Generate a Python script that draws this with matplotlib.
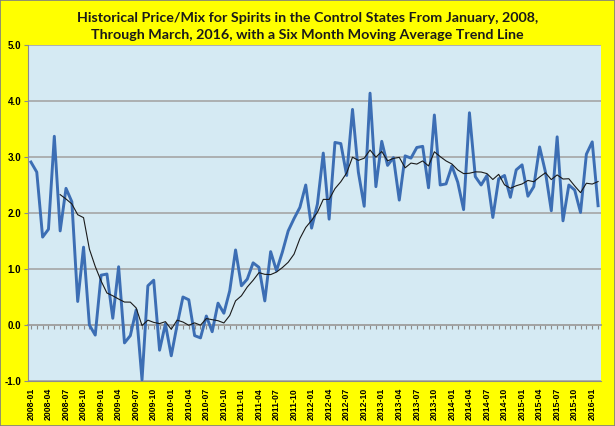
import pandas as pd
import matplotlib.pyplot as plt
from matplotlib.patches import Rectangle

# valores mensuales (ene 2008 - feb 2016)
meses = pd.date_range("2008-01-01", periods=98, freq="MS").strftime("%Y-%m").tolist()
valores = [2.91, 2.73, 1.57, 1.71, 3.37, 1.68, 2.44, 2.20, 0.42, 1.39, 0.00, -0.18,
           0.89, 0.91, 0.12, 1.04, -0.32, -0.19, 0.27, -0.98, 0.70, 0.80, -0.45, 0.02,
           -0.55, 0.00, 0.50, 0.45, -0.19, -0.23, 0.16, -0.12, 0.39, 0.21, 0.61, 1.34,
           0.70, 0.82, 1.11, 1.03, 0.43, 1.31, 0.97, 1.30, 1.68, 1.90, 2.10, 2.50,
           1.73, 2.16, 3.07, 1.89, 3.26, 3.24, 2.67, 3.85, 2.73, 2.12, 4.14, 2.47,
           3.28, 2.85, 2.99, 2.23, 3.02, 2.98, 3.17, 3.19, 2.45, 3.75, 2.50, 2.52,
           2.84, 2.55, 2.06, 3.79, 2.65, 2.50, 2.67, 1.92, 2.61, 2.67, 2.28, 2.77,
           2.86, 2.30, 2.47, 3.18, 2.73, 2.04, 3.36, 1.86, 2.50, 2.41, 2.01, 3.05,
           3.27, 2.13]
yticks = [-1.0, 0.0, 1.0, 2.0, 3.0, 4.0, 5.0]

titulo = ("Historical Price/Mix for Spirits in the Control States From January, 2008,\n"
          "Through March, 2016, with a Six Month Moving Average Trend Line")

df = pd.DataFrame({"mes": meses, "valor": valores})
df["media6"] = df["valor"].rolling(6).mean()
x = range(len(df))

fig = plt.figure(figsize=(6.15, 4.26), dpi=100, facecolor="#FFFF00")
ax = fig.add_axes([28 / 615, 1 - 381 / 426, 573 / 615, 336 / 426])
ax.set_facecolor("#D5EAF3")

# borde de la figura
fig.patches.append(Rectangle((0, 0), 1, 1, transform=fig.transFigure, fill=False,
                             edgecolor="#7F7F7F", linewidth=1.2))

ax.plot(x, df["valor"], color="#3C6EB4", linewidth=2.1, zorder=3)
ax.plot(x, df["media6"], color="#1A1A1A", linewidth=0.8, zorder=4)

ax.set_xlim(-0.5, len(df) - 0.5)
ax.set_ylim(-1, 5)
ax.set_yticks(yticks)
ax.set_yticklabels([f"{v:.1f}" for v in yticks], fontsize=7, fontweight="bold",
                   family="Liberation Sans")
ax.grid(axis="y", color="#A6A6A6", linewidth=1.2)
ax.set_axisbelow(True)
ax.tick_params(axis="y", length=3, color="#8C8C8C", pad=2)

ax.set_xticks(list(x)[::3])
ax.set_xticklabels(meses[::3], rotation=90, fontsize=6.3, fontweight="bold",
                   family="Liberation Sans")
ax.tick_params(axis="x", length=0, pad=5)

for lado in ["top", "right"]:
    ax.spines[lado].set_visible(False)
ax.spines["left"].set_color("#8C8C8C")
ax.spines["bottom"].set_color("#8C8C8C")

# eje horizontal en cero con marcas por mes
eje0 = ax.secondary_xaxis(1 / 6)
eje0.set_xticks(list(x))
eje0.set_xticklabels([])
eje0.tick_params(axis="x", direction="out", length=3, color="#8C8C8C")
eje0.spines["bottom"].set_color("#8C8C8C")
eje0.spines["bottom"].set_linewidth(1.2)

fig.text(0.5, 0.937, titulo, ha="center", va="center", fontsize=10.3,
         fontweight="bold", family=["Lato", "DejaVu Sans"], color="#1A1A1A",
         linespacing=1.5)

fig.savefig("out.png", dpi=100, facecolor=fig.get_facecolor())
